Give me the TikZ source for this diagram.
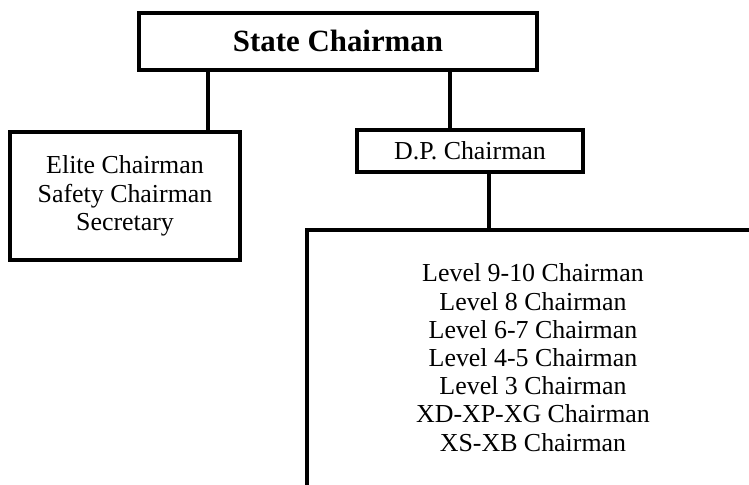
\documentclass[tikz,border=0pt]{standalone}
\usepackage{fontspec}
\setmainfont{Liberation Serif}
\begin{document}
\begin{tikzpicture}[x=1bp,y=-1bp,
  boxstyle/.style={draw=black,line width=4bp,inner sep=0pt,align=center,
    font=\fontsize{26}{28.3}\selectfont},
  linkstyle/.style={draw=black,line width=4bp}]
\clip (0,0) rectangle (749,485);
\fill[white] (0,0) rectangle (749,485);
\node[boxstyle,minimum width=398bp,minimum height=57.3bp,
  font=\fontsize{31}{34}\selectfont\bfseries] (sc) at (338,41.3) {State Chairman};
\node[boxstyle,minimum width=230bp,minimum height=128bp] (lb) at (125,196)
  {Elite Chairman\\Safety Chairman\\Secretary};
\node[boxstyle,minimum width=226bp,minimum height=42bp] (dp) at (470,151) {D.P. Chairman};
\node[boxstyle,draw=none,outer sep=0pt,minimum width=452.6bp,minimum height=255.2bp] (lv) at (533,357.6)
  {Level 9-10 Chairman\\Level 8 Chairman\\Level 6-7 Chairman\\Level 4-5 Chairman\\Level 3 Chairman\\XD-XP-XG Chairman\\XS-XB Chairman};
\draw[linkstyle] ([xshift=20bp]lv.north east) -- (lv.north west) -- ([yshift=-30bp]lv.south west);
\coordinate (c1) at (207.7,0);
\coordinate (c2) at (450,0);
\coordinate (c3) at (489,0);
\draw[linkstyle] (sc.south -| c1) -- (lb.north -| c1);
\draw[linkstyle] (sc.south -| c2) -- (dp.north -| c2);
\draw[linkstyle] (dp.south -| c3) -- (lv.north -| c3);
\end{tikzpicture}
\end{document}
